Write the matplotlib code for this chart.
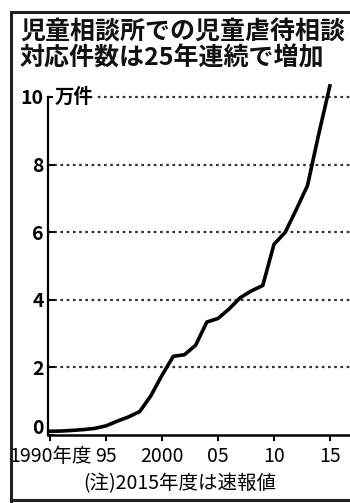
import matplotlib
matplotlib.use("Agg")
import matplotlib.pyplot as plt
import matplotlib.transforms as mtransforms
from matplotlib.lines import Line2D

plt.rcParams['font.family'] = ['Noto Sans CJK JP', 'DejaVu Sans']

# 児童虐待相談対応件数 (万件)
years = list(range(1990, 2016))
cases = [0.110, 0.117, 0.137, 0.161, 0.196, 0.272, 0.410, 0.535, 0.693, 1.163,
         1.773, 2.327, 2.374, 2.657, 3.341, 3.447, 3.732, 4.064, 4.266, 4.421,
         5.638, 5.992, 6.670, 7.380, 8.893, 10.326]
yticks = [0, 2, 4, 6, 8, 10]
xticks = [1990, 1995, 2000, 2005, 2010, 2015]
xlabels = ['1990年度', '95', '2000', '05', '10', '15']

title = '児童相談所での児童虐待相談\n対応件数は25年連続で増加'
note = '(注)2015年度は速報値'

W, H = 350, 503
fig = plt.figure(figsize=(W / 100, H / 100), dpi=100)

# newspaper frame
fig.add_artist(Line2D([11 / W, 11 / W], [0, 1 - 12 / H], color='#222222', lw=2.2))
fig.add_artist(Line2D([11 / W, 1], [1 - 12 / H, 1 - 12 / H], color='#222222', lw=2.2))
fig.add_artist(Line2D([11 / W, 1], [3 / H, 3 / H], color='#222222', lw=2.2))

fig.text(20 / W, 1 - 20 / H, title, ha='left', va='top', fontsize=18,
         fontweight='bold', linespacing=1.12, color='#111111')

ax = fig.add_axes([48 / W, 68 / H, 1 - 48 / W, (435 - 80) / H])
ax.set_xlim(1989.8, 2016.8)
ax.set_ylim(0, 10.5)

for y in yticks[1:]:
    ax.axhline(y, color='#333333', lw=1.6, ls=(0, (1.2, 1.6)), zorder=1)

ax.plot(years, cases, color='black', lw=2.6, clip_on=False, zorder=3,
        solid_joinstyle='round')

for s in ['top', 'right']:
    ax.spines[s].set_visible(False)
ax.spines['left'].set_bounds(0, 10)
ax.spines['left'].set_linewidth(1.6)
ax.spines['bottom'].set_linewidth(1.8)

ax.set_yticks(yticks)
ax.set_yticklabels([str(v) for v in yticks], fontsize=14, fontweight='bold')
ax.tick_params(axis='y', direction='in', length=5, width=1.4, pad=3)
# lift the "0" label a little above the axis line
lbl0 = ax.get_yticklabels()[0]
lbl0.set_transform(lbl0.get_transform() +
                   mtransforms.ScaledTranslation(0, 6 / 72, fig.dpi_scale_trans))

ax.set_xticks(xticks)
ax.set_xticklabels(xlabels, fontsize=14)
ax.tick_params(axis='x', direction='out', length=4, width=1.4, pad=4)

ax.text(1990.4, 10, '万件', ha='left', va='center', fontsize=14, fontweight='bold',
        bbox=dict(facecolor='white', edgecolor='none', pad=1), zorder=2)

fig.text(180 / W, 19 / H, note, ha='center', va='center', fontsize=14)

fig.savefig('out.png', dpi=100)
